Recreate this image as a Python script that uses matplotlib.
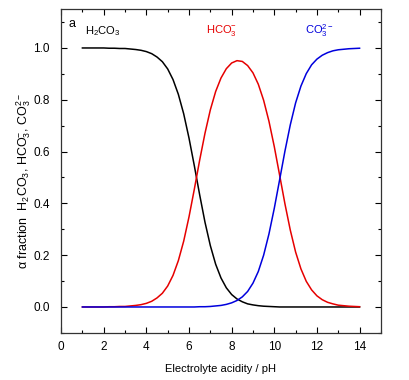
import numpy as np
import matplotlib
matplotlib.use("Agg")
import matplotlib.pyplot as plt
from matplotlib.ticker import MultipleLocator

plt.rcParams['font.family'] = ['Liberation Sans', 'DejaVu Sans']
plt.rcParams['mathtext.fontset'] = 'custom'
plt.rcParams['mathtext.rm'] = 'Liberation Sans'
plt.rcParams['mathtext.default'] = 'regular'

# pH grid (0.25 steps)
ph = [1.0, 1.25, 1.5, 1.75, 2.0, 2.25, 2.5, 2.75, 3.0, 3.25, 3.5, 3.75,
      4.0, 4.25, 4.5, 4.75, 5.0, 5.25, 5.5, 5.75, 6.0, 6.25, 6.5, 6.75,
      7.0, 7.25, 7.5, 7.75, 8.0, 8.25, 8.5, 8.75, 9.0, 9.25, 9.5, 9.75,
      10.0, 10.25, 10.5, 10.75, 11.0, 11.25, 11.5, 11.75, 12.0, 12.25,
      12.5, 12.75, 13.0, 13.25, 13.5, 13.75, 14.0]

h2co3 = [1.000, 1.000, 1.000, 1.000, 1.000, 0.999, 0.999, 0.998, 0.998,
         0.996, 0.994, 0.991, 0.986, 0.978, 0.965, 0.947, 0.919, 0.878,
         0.821, 0.746, 0.652, 0.545, 0.433, 0.327, 0.237, 0.165, 0.112,
         0.074, 0.048, 0.031, 0.020, 0.012, 0.008, 0.005, 0.003, 0.002,
         0.001, 0.000, 0.000, 0.000, 0.000, 0.000, 0.000, 0.000, 0.000,
         0.000, 0.000, 0.000, 0.000, 0.000, 0.000, 0.000, 0.000]

hco3 = [0.000, 0.000, 0.000, 0.000, 0.000, 0.001, 0.001, 0.002, 0.002,
        0.004, 0.006, 0.009, 0.014, 0.022, 0.035, 0.053, 0.081, 0.122,
        0.179, 0.254, 0.348, 0.455, 0.567, 0.671, 0.761, 0.832, 0.884,
        0.920, 0.942, 0.951, 0.948, 0.932, 0.904, 0.860, 0.798, 0.717,
        0.619, 0.509, 0.398, 0.297, 0.212, 0.147, 0.099, 0.066, 0.043,
        0.028, 0.018, 0.012, 0.007, 0.005, 0.003, 0.002, 0.001]

co3 = [0.000, 0.000, 0.000, 0.000, 0.000, 0.000, 0.000, 0.000, 0.000,
       0.000, 0.000, 0.000, 0.000, 0.000, 0.000, 0.000, 0.000, 0.000,
       0.000, 0.000, 0.000, 0.000, 0.001, 0.001, 0.002, 0.004, 0.006,
       0.010, 0.016, 0.025, 0.039, 0.060, 0.092, 0.137, 0.200, 0.282,
       0.381, 0.491, 0.602, 0.703, 0.788, 0.853, 0.901, 0.935, 0.957,
       0.972, 0.982, 0.989, 0.993, 0.995, 0.997, 0.998, 0.999]

fig = plt.figure(figsize=(4.1, 3.8), dpi=100)
ax = fig.add_axes([0.149, 0.124, 0.780, 0.852])

ax.plot(ph, h2co3, color='black', lw=1.1)
ax.plot(ph, hco3, color='#e60000', lw=1.1)
ax.plot(ph, co3, color='#0000dd', lw=1.1)

ax.set_xlim(0, 15)
ax.set_ylim(-0.1, 1.15)
ax.xaxis.set_major_locator(MultipleLocator(2))
ax.xaxis.set_minor_locator(MultipleLocator(1))
ax.yaxis.set_major_locator(MultipleLocator(0.2))
ax.yaxis.set_minor_locator(MultipleLocator(0.1))
ax.set_yticks(np.arange(0, 1.01, 0.2))
ax.tick_params(which='both', direction='in', top=True, right=True,
               labelsize=8.5, width=0.8)
ax.tick_params(which='major', length=4)
ax.tick_params(which='minor', length=2.5)
ax.tick_params(axis='x', pad=6)
ax.tick_params(axis='y', pad=8)
for s in ax.spines.values():
    s.set_linewidth(0.9)
    s.set_color('#333333')

ax.set_xlabel('Electrolyte acidity / pH', fontsize=8, labelpad=8)
ax.set_ylabel('α fraction  H$_2$CO$_3$, HCO$_3^{-}$, CO$_3^{2-}$',
              fontsize=9)
ax.yaxis.set_label_coords(-0.088, 0.47)

ax.text(0.35, 1.094, 'a', fontsize=9, va='center')
ax.text(1.1, 1.067, 'H$_2$CO$_3$', fontsize=8, va='center', color='black')
ax.text(6.8, 1.067, 'HCO$_3^{-}$', fontsize=8, va='center', color='#e60000')
ax.text(11.45, 1.067, 'CO$_3^{2-}$', fontsize=8, va='center', color='#0000dd')

fig.savefig('out.png', dpi=100)
